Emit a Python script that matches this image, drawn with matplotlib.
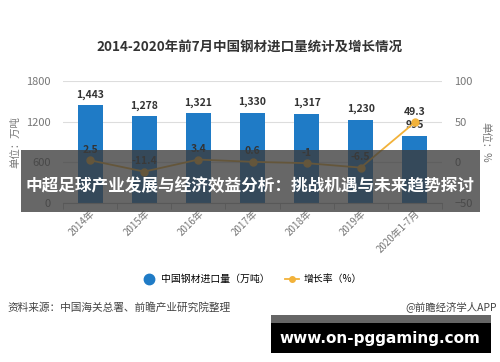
import matplotlib
matplotlib.use("Agg")
import matplotlib.pyplot as plt
from matplotlib.patches import Rectangle
from matplotlib.lines import Line2D
import numpy as np

plt.rcParams['font.family'] = ['Noto Sans CJK SC', 'DejaVu Sans']

categories = ["2014年", "2015年", "2016年", "2017年", "2018年", "2019年", "2020年1-7月"]
imports = [1443, 1278, 1321, 1330, 1317, 1230, 995]
import_labels = ["1,443", "1,278", "1,321", "1,330", "1,317", "1,230", "995"]
growth = [2.5, -11.4, 3.4, 0.6, -1, -6.5, 49.3]
growth_labels = ["2.5", "-11.4", "3.4", "0.6", "-1", "-6.5", "49.3"]
left_ticks = [0, 600, 1200, 1800]
right_ticks = [-50, 0, 50, 100]

title = "2014-2020年前7月中国钢材进口量统计及增长情况"
banner = "中超足球产业发展与经济效益分析：挑战机遇与未来趋势探讨"
site = "www.on-pggaming.com"

BLUE = "#1f7bc6"
ORANGE = "#f2b23a"
GRAY = "#777777"

W, H = 500, 362
fig = plt.figure(figsize=(W/100, H/100), dpi=100)
fig.patch.set_facecolor("white")

ax = fig.add_axes([63/W, 1-203/H, (442-63)/W, (203-81)/H])
x = np.arange(len(categories))
ax.bar(x, imports, width=0.46, color=BLUE, zorder=2)
ax.set_xlim(-0.5, len(categories)-0.5)
ax.set_ylim(0, 1800)
ax.set_yticks(left_ticks)
ax.grid(axis='y', color="#dddddd", linewidth=0.8, zorder=0)
for s in ['top', 'right', 'left']:
    ax.spines[s].set_visible(False)
ax.spines['bottom'].set_color("#bbbbbb")
ax.tick_params(axis='y', length=0, pad=9, labelsize=8, labelcolor=GRAY)
ax.set_xticks(x)
ax.set_xticklabels(categories, rotation=45, ha='right', rotation_mode='anchor',
                   fontsize=7, color=GRAY)
ax.tick_params(axis='x', length=0, pad=4)
ax.set_xticks(np.arange(-0.5, len(categories), 1), minor=True)
ax.tick_params(axis='x', which='minor', length=4, color="#bbbbbb")
for xi, v, lab in zip(x, imports, import_labels):
    ax.annotate(lab, (xi, v), xytext=(0, 4), textcoords='offset points',
                ha='center', va='bottom', fontsize=7.5, fontweight='bold', color="#333333")
ax.set_ylabel("单位：万吨", fontsize=7.5, color=GRAY, labelpad=4)

ax2 = ax.twinx()
ax2.set_ylim(-50, 100)
ax2.set_yticks(right_ticks)
for s in ax2.spines.values():
    s.set_visible(False)
ax2.tick_params(axis='y', length=0, pad=9, labelsize=8, labelcolor=GRAY)
ax2.plot(x, growth, color=ORANGE, linewidth=1.3, marker='o', markersize=5, zorder=3)
for xi, v, lab in zip(x, growth, growth_labels):
    ax2.annotate(lab, (xi, v), xytext=(0, 4), textcoords='offset points',
                 ha='center', va='bottom', fontsize=7.5, fontweight='bold', color="#333333")
ax2.set_ylabel("单位：%", fontsize=7.5, color=GRAY, rotation=270, labelpad=13)

fig.text(250/W, 1-47/H, title, ha='center', va='center', fontsize=9.7,
         fontweight='bold', color="#333333")

# legend
leg_handles = [
    Line2D([], [], color='none', marker='o', markerfacecolor=BLUE, markeredgecolor=BLUE, markersize=7.5),
    Line2D([], [], color=ORANGE, marker='o', markerfacecolor=ORANGE, markeredgecolor=ORANGE, markersize=4, linewidth=1.3),
]
fig.legend(leg_handles, ["中国钢材进口量（万吨）", "增长率（%）"], loc='center',
           bbox_to_anchor=(252/W, 1-279/H), ncol=2, frameon=False, fontsize=7.1,
           handlelength=1.4, columnspacing=1.6, handletextpad=0.5)

fig.text(7/W, 1-307/H, "资料来源：中国海关总署、前瞻产业研究院整理", ha='left', va='center',
         fontsize=7.7, color="#444444")
fig.text(497/W, 1-307/H, "@前瞻经济学人APP", ha='right', va='center',
         fontsize=7.5, color="#444444")

# overlay banner
fig.patches.append(Rectangle((21/W, 1-212/H), (480-21)/W, (212-150)/H,
                             transform=fig.transFigure, facecolor="#3c3c3c", alpha=0.78,
                             edgecolor='none', zorder=10))
fig.text(250/W, 1-186/H, banner, ha='center', va='center', fontsize=12,
         fontweight='bold', color='white', zorder=11)

# site box
fig.patches.append(Rectangle((271/W, 1-323/H), (491-271)/W, (323-315)/H,
                             transform=fig.transFigure, facecolor="#666666",
                             edgecolor='none', zorder=10))
fig.patches.append(Rectangle((271/W, 1-353/H), (491-271)/W, (353-323)/H,
                             transform=fig.transFigure, facecolor="black",
                             edgecolor='none', zorder=10))
fig.text(380/W, 1-338/H, site, ha='center', va='center', fontsize=11,
         fontweight='bold', color='white', family='DejaVu Sans', zorder=11)

fig.savefig("out.png", dpi=100)
